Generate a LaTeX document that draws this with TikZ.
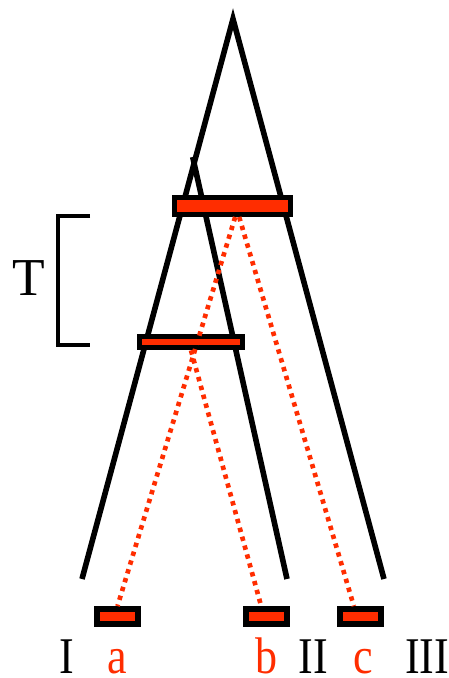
\documentclass[tikz,border=0pt]{standalone}
\usepackage{fontspec}
\setmainfont{Liberation Serif}
\usepackage{xcolor}
\usepackage{tikz}
\usetikzlibrary{positioning}
\definecolor{genered}{RGB}{255,45,0}
\newcommand{\tallword}[1]{\scalebox{1}[1.17]{#1}}

\begin{document}
\begin{tikzpicture}[
    x=0.75pt, y=-0.75pt,
    branch/.style={line width=4.2pt, line join=miter},
    genebar/.style={rectangle, draw=black, fill=genered, line width=4pt, inner sep=0pt},
    leafbox/.style={rectangle, draw=black, fill=genered, line width=4.6pt, inner sep=0pt, minimum width=31pt, minimum height=11pt},
    genetree/.style={genered, line width=3.5pt, dash pattern=on 3.3pt off 3.6pt},
    label/.style={anchor=base, inner sep=0pt, font=\fontsize{33}{36}\selectfont}
]
\useasboundingbox (0,0) rectangle (449,678);

\coordinate (root) at (233,19);
\coordinate (split) at (192.7,157);
\coordinate (I) at (82,579);
\coordinate (II) at (287,579);
\coordinate (III) at (384,579);

\draw[branch] (I) -- (root) -- (III);
\draw[branch] (split) -- (II);

\node[genebar, minimum width=87pt, minimum height=12.5pt] (top) at (232.5,206) {};
\node[genebar, minimum width=77pt, minimum height=8.5pt] (low) at (191,342) {};

\node[leafbox] (boxa) at (117.5,616.5) {};
\node[leafbox] (boxb) at (266.5,616.5) {};
\node[leafbox] (boxc) at (360.5,616.5) {};

\draw[genetree] ([xshift=2pt]top.south) -- (boxa.north);
\draw[genetree] ([xshift=5pt]top.south) -- ([xshift=-5pt]boxc.north);
\draw[genetree] (low.south) -- ([xshift=-4pt]boxb.north);

\draw[line width=2.3pt] (90,216) -- (58,216) -- (58,345) -- (90,345);
\node[label, font=\fontsize{40}{44}\selectfont] (T) at (29,295) {T};

\node[label] (lI) at (67,673) {\tallword{I}};
\node[label, genered] (la) at (117,673) {\tallword{a}};
\node[label, genered] (lb) at (266,673) {\tallword{b}};
\node[label] (lII) at (313,673) {\tallword{II}};
\node[label, genered] (lc) at (363,673) {\tallword{c}};
\node[label] (lIII) at (427,673) {\tallword{III}};
\end{tikzpicture}
\end{document}
